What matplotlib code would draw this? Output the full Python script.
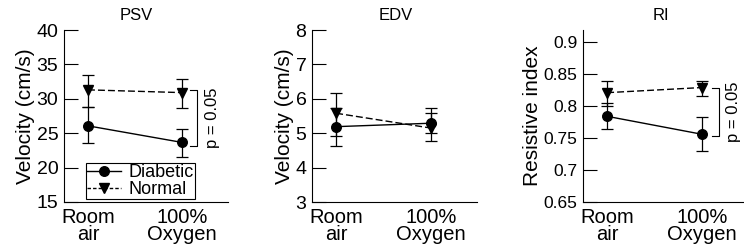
import matplotlib
matplotlib.use("Agg")
import matplotlib.pyplot as plt
from matplotlib.lines import Line2D
import numpy as np

plt.rcParams['font.family'] = ['Liberation Sans', 'DejaVu Sans']

conditions = ["Room\nair", "100%\nOxygen"]

# PSV
psv_diab = [26.07, 23.66]
psv_diab_lo = [23.56, 21.5]
psv_diab_hi = [28.88, 25.6]
psv_norm = [31.3, 30.9]
psv_norm_lo = [28.88, 28.6]
psv_norm_hi = [33.47, 32.9]

# EDV
edv_diab = [5.19, 5.29]
edv_diab_lo = [4.63, 5.0]
edv_diab_hi = [5.74, 5.72]
edv_norm = [5.58, 5.15]
edv_norm_lo = [4.93, 4.78]
edv_norm_hi = [6.17, 5.58]

# RI
ri_diab = [0.784, 0.756]
ri_diab_lo = [0.764, 0.730]
ri_diab_hi = [0.805, 0.783]
ri_norm = [0.821, 0.829]
ri_norm_lo = [0.800, 0.816]
ri_norm_hi = [0.8385, 0.840]

W, H = 744, 250
fig = plt.figure(figsize=(W / 100, H / 100), dpi=100)

DASH = (5, 2.2)
MS = 6.9
CAP = 4.6

def ax_at(l, r, t, b):
    return fig.add_axes([l / W, 1 - b / H, (r - l) / W, (b - t) / H])

def draw(ax, diab, dlo, dhi, norm, nlo, nhi, ticksize=14):
    x = np.arange(len(conditions))
    d = np.array(diab); n = np.array(norm)
    ax.errorbar(x, n, yerr=[n - np.array(nlo), np.array(nhi) - n], color='black',
                fmt='--v', ms=MS, lw=1, capsize=CAP, elinewidth=0.9, capthick=0.9,
                dashes=DASH)
    ax.errorbar(x, d, yerr=[d - np.array(dlo), np.array(dhi) - d], color='black',
                fmt='-o', ms=MS, lw=1, capsize=CAP, elinewidth=0.9, capthick=0.9)
    ax.set_xlim(-0.255, 1.489)
    ax.set_xticks(x)
    ax.set_xticklabels(conditions, fontsize=14.5, linespacing=0.88)
    ax.tick_params(axis='x', length=0, pad=4)
    ax.tick_params(axis='y', direction='in', length=10, width=0.8, labelsize=ticksize, pad=4)
    for s in ['top', 'right']:
        ax.spines[s].set_visible(False)
    for s in ['left', 'bottom']:
        ax.spines[s].set_linewidth(0.8)

def bracket(ax, xpos, y1, y2, text, tx):
    ax.plot([xpos - 0.07, xpos, xpos, xpos - 0.07], [y1, y1, y2, y2], color='black', lw=0.8,
            clip_on=False)
    ax.text(tx, (y1 + y2) / 2, text, rotation=90, ha='center', va='center', fontsize=12,
            clip_on=False)

def title(ax, text, xfig):
    ax.text(xfig, 1 - 16 / H, text, transform=fig.transFigure, ha='center',
            va='center', fontsize=12)

ax1 = ax_at(64, 228, 30, 202)
draw(ax1, psv_diab, psv_diab_lo, psv_diab_hi, psv_norm, psv_norm_lo, psv_norm_hi)
ax1.set_ylim(15, 40)
ax1.set_yticks([15, 20, 25, 30, 35, 40])
ax1.set_ylabel("Velocity (cm/s)", fontsize=15, labelpad=1)
title(ax1, "PSV", 136.5 / W)
bracket(ax1, 1.156, 31.3, 23.1, "p = 0.05", 1.32)
handles = [Line2D([], [], color='black', marker='o', ms=MS, lw=1, ls='-'),
           Line2D([], [], color='black', marker='v', ms=MS, lw=1, ls='--', dashes=(2.5, 1.5))]
leg = ax1.legend(handles, ["Diabetic", "Normal"], loc='lower left',
                 bbox_to_anchor=(0.134, 0.017), fontsize=13,
                 frameon=True, fancybox=False, edgecolor='black', handlelength=1.9,
                 handletextpad=0.4, borderpad=0.05, labelspacing=0.0, borderaxespad=0,
                 framealpha=1)
leg.get_frame().set_linewidth(0.8)

ax2 = ax_at(312, 477, 30, 202)
draw(ax2, edv_diab, edv_diab_lo, edv_diab_hi, edv_norm, edv_norm_lo, edv_norm_hi)
ax2.set_ylim(3, 8)
ax2.set_yticks([3, 4, 5, 6, 7, 8])
ax2.set_ylabel("Velocity (cm/s)", fontsize=15, labelpad=1)
title(ax2, "EDV", 396 / W)

ax3 = ax_at(583, 748, 30, 202)
draw(ax3, ri_diab, ri_diab_lo, ri_diab_hi, ri_norm, ri_norm_lo, ri_norm_hi, ticksize=12.5)
ax3.set_ylim(0.65, 0.919)
ax3.set_yticks([0.65, 0.7, 0.75, 0.8, 0.85, 0.9])
ax3.set_yticklabels(["0.65", "0.7", "0.75", "0.8", "0.85", "0.9"])
ax3.set_ylabel("Resistive index", fontsize=15, labelpad=1)
title(ax3, "RI", 661 / W)
bracket(ax3, 1.18, 0.829, 0.754, "p = 0.05", 1.34)

fig.savefig("out.png", dpi=100)
